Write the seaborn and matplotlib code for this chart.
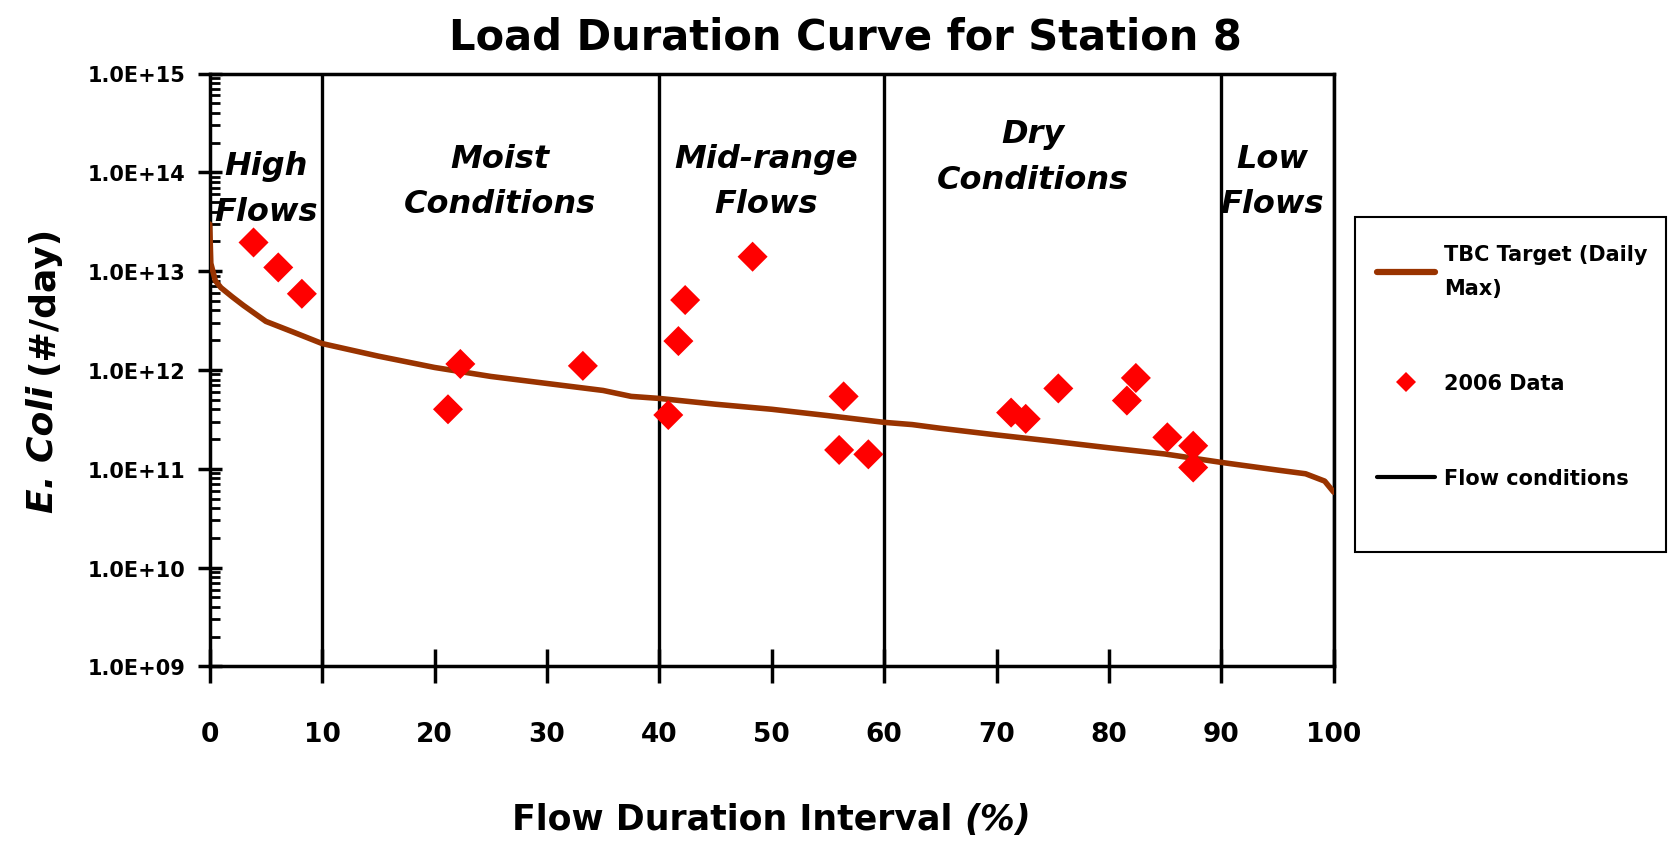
import matplotlib
matplotlib.use("Agg")
import matplotlib.pyplot as plt
import matplotlib.ticker as mticker
from matplotlib.patches import Rectangle
from matplotlib.lines import Line2D
import seaborn as sns

# --- Data ---
flow_pct = [0, 0.1, 0.5, 1, 2, 3, 5, 7.5, 10, 15, 20, 25, 30, 35, 37.5, 40,
            45, 50, 55, 60, 62.5, 65, 70, 75, 80, 85, 90, 95, 97.5, 99.2, 100]
target_load = [3.0e13, 1.2e13, 8.0e12, 6.8e12, 5.5e12, 4.5e12, 3.1e12, 2.4e12,
               1.85e12, 1.38e12, 1.06e12, 8.6e11, 7.3e11, 6.2e11, 5.4e11, 5.15e11,
               4.5e11, 4.0e11, 3.45e11, 2.95e11, 2.8e11, 2.57e11, 2.2e11, 1.9e11,
               1.63e11, 1.41e11, 1.16e11, 9.7e10, 8.9e10, 7.5e10, 5.8e10]

sample_pct = [3.9, 6.1, 8.2, 21.2, 22.3, 33.2, 40.8, 41.7, 42.3, 48.3, 56.0,
              56.4, 58.6, 71.3, 72.6, 75.5, 81.6, 82.4, 85.2, 87.5, 87.5]
sample_load = [1.95e13, 1.09e13, 5.9e12, 4.0e11, 1.15e12, 1.1e12, 3.5e11, 1.96e12,
               5.1e12, 1.4e13, 1.55e11, 5.4e11, 1.4e11, 3.7e11, 3.2e11, 6.5e11,
               4.9e11, 8.3e11, 2.08e11, 1.71e11, 1.03e11]

condition_bounds = [10, 40, 60, 90, 100]
region_names = ["High\nFlows", "Moist\nConditions", "Mid-range\nFlows",
                "Dry\nConditions", "Low\nFlows"]

# layout of the zone labels (data x, axes-fraction y)
region_x = [5.0, 25.8, 49.5, 73.2, 94.5]
region_y = [0.806, 0.819, 0.819, 0.860, 0.819]

# --- Style ---
sns.set_style("white")
plt.rcParams['font.family'] = ['DejaVu Sans']
plt.rcParams['font.weight'] = 'bold'
for key in ['text.color', 'axes.labelcolor', 'xtick.color', 'ytick.color']:
    plt.rcParams[key] = 'black'

W, H = 1669, 845
fig = plt.figure(figsize=(W / 100, H / 100), dpi=100)
ax = fig.add_axes([209.7 / W, 1 - 667.4 / H, 1124 / W, 592.9 / H])

sns.lineplot(x=flow_pct, y=target_load, color='#993300', lw=4.0, sort=False,
             ax=ax, zorder=3, legend=False)
sns.scatterplot(x=sample_pct, y=sample_load, marker='D', s=234, color='red',
                edgecolor='none', linewidth=0, ax=ax, zorder=4, legend=False)
ax.vlines(condition_bounds, 1e9, 1e15, color='black', lw=2.4, zorder=2)

ax.set_yscale('log')
ax.set_ylim(1e9, 1e15)
ax.set_xlim(0, 100)
ax.set_xticks(range(0, 101, 10))
ax.yaxis.set_major_locator(mticker.LogLocator(base=10, numticks=10))
ax.yaxis.set_minor_locator(mticker.LogLocator(base=10, subs=range(2, 10), numticks=20))
ax.yaxis.set_major_formatter(mticker.FuncFormatter(lambda v, p: f"{v:.1E}"))
ax.yaxis.set_minor_formatter(mticker.NullFormatter())

for s in ax.spines.values():
    s.set_color('black')
    s.set_linewidth(2.5)

ax.tick_params(axis='x', which='major', direction='inout', length=24, width=2.5,
               pad=27, labelsize=19, bottom=True, colors='black')
ax.tick_params(axis='y', which='major', direction='inout', length=17, width=2.5,
               pad=9, labelsize=15, left=True, colors='black')
ax.tick_params(axis='y', which='minor', direction='in', length=7, width=2, left=True,
               colors='black')
for lab in ax.get_xticklabels() + ax.get_yticklabels():
    lab.set_fontweight('bold')

# zone labels
for name, xx, yy in zip(region_names, region_x, region_y):
    ax.text(xx, yy, name, transform=ax.get_xaxis_transform(), ha='center',
            va='center', fontsize=23, fontweight='bold', style='italic',
            linespacing=1.6, zorder=5)

# title
fig.text(845 / W, 1 - 37 / H, "Load Duration Curve for Station 8", ha='center',
         va='center', fontsize=30, fontweight='bold')

# axis titles with mixed italic parts: measure first, then place
renderer = fig.canvas.get_renderer()


def text_size(s, fs, style='normal'):
    t = fig.text(0.5, 0.5, s, fontsize=fs, fontweight='bold', style=style)
    bb = t.get_window_extent(renderer)
    t.remove()
    return bb.width


xfs, yfs = 25, 26
gap = 0.33 * xfs * 100 / 72
wa = text_size("Flow Duration Interval", xfs)
wb = text_size("(%)", xfs, 'italic')
x0 = 771.7 - (wa + gap + wb) / 2
fig.text(x0 / W, 1 - 820 / H, "Flow Duration Interval", ha='left', va='center',
         fontsize=xfs, fontweight='bold')
fig.text((x0 + wa + gap) / W, 1 - 820 / H, "(%)", ha='left', va='center',
         fontsize=xfs, fontweight='bold', style='italic')

ygap = 0.33 * yfs * 100 / 72
ha_ = text_size("E. Coli", yfs, 'italic')
hb_ = text_size("(#/day)", yfs)
y0 = (H - 369) - (ha_ + ygap + hb_) / 2
fig.text(42.6 / W, y0 / H, "E. Coli", rotation=90, rotation_mode='anchor',
         ha='left', va='center', fontsize=yfs, fontweight='bold', style='italic')
fig.text(42.6 / W, (y0 + ha_ + ygap) / H, "(#/day)", rotation=90,
         rotation_mode='anchor', ha='left', va='center', fontsize=yfs,
         fontweight='bold')

# legend
handles = [Line2D([], [], color='#993300', lw=4.5),
           Line2D([], [], color='red', marker='D', ls='none', markersize=10,
                  markeredgewidth=0),
           Line2D([], [], color='black', lw=3)]
labels = ["TBC Target (Daily\nMax)", "2006 Data", "Flow conditions"]
leg = ax.legend(handles, labels, loc='upper left',
                bbox_to_anchor=(1377 / W, 1 - 245 / H), bbox_transform=fig.transFigure,
                frameon=False, fontsize=15, handlelength=2.8, handletextpad=0.4,
                labelspacing=3.6, borderpad=0, borderaxespad=0)
for t in leg.get_texts():
    t.set_fontweight('bold')
    t.set_linespacing(1.9)
fig.add_artist(Rectangle((1355 / W, 1 - 553 / H), 311 / W, 335 / H,
                         transform=fig.transFigure, fill=False, ec='black', lw=1.5))

fig.savefig("out.png", dpi=100)
